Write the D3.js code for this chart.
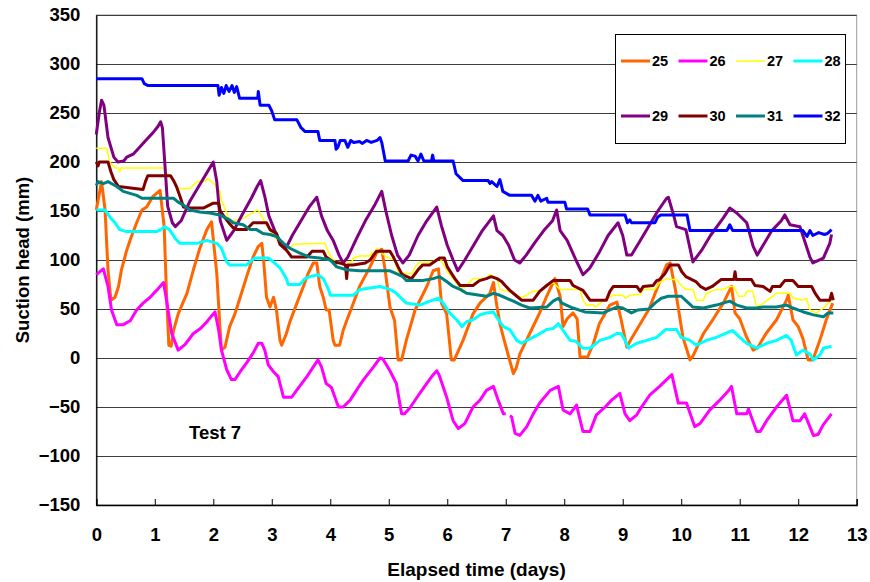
<!DOCTYPE html>
<html lang="en">
<head>
<meta charset="UTF-8">
<title>Suction head - Test 7</title>
<script src="https://d3js.org/d3.v7.min.js"></script>
<style>
    body { margin: 0; background: #fff; }
    text { font-family: Arial, "Liberation Sans", sans-serif; font-weight: bold; fill: #000; }
</style>
</head>
<body>
<svg width="870" height="582"></svg>
<script>
    // ---- data (day, suction head mm) ----
    const xTicks = d3.range(0, 14, 1);
    const yTicks = d3.range(-150, 351, 50);
    const seriesNames = ["25", "26", "27", "28", "29", "30", "31", "32"];
    const seriesColors = ["#FF6600", "#FF00FF", "#FFFF00", "#00FFFF", "#800080", "#800000", "#008080", "#0000FF"];

    const s25 = [[0,151],[0.09,180],[0.15,151],[0.2,90],[0.25,59],[0.32,62],[0.38,73],[0.43,90],[0.52,110],[0.6,124],[0.69,138],[0.78,151],[0.86,154],[0.97,165],[1.09,171],[1.16,134],[1.2,66],[1.24,13],[1.28,12],[1.32,28],[1.4,45],[1.55,66],[1.66,90],[1.77,112],[1.89,131],[1.97,139],[2.06,86],[2.11,35],[2.14,8],[2.2,11],[2.28,32],[2.37,45],[2.46,62],[2.57,83],[2.68,103],[2.77,114],[2.83,117],[2.86,100],[2.91,62],[2.97,52],[3.03,62],[3.08,49],[3.14,18],[3.17,13],[3.25,25],[3.31,37],[3.43,56],[3.54,73],[3.62,86],[3.71,97],[3.77,97],[3.82,73],[3.88,62],[3.93,49],[3.98,49],[4.05,18],[4.08,13],[4.16,13],[4.22,28],[4.28,38],[4.37,52],[4.5,73],[4.68,93],[4.79,107],[4.88,111],[4.94,89],[5.02,52],[5.1,38],[5.16,-2],[5.22,-2],[5.3,18],[5.45,49],[5.65,73],[5.76,89],[5.85,91],[5.9,56],[5.99,45],[6.07,-2],[6.12,-2],[6.27,18],[6.44,45],[6.56,56],[6.73,66],[6.79,77],[6.84,56],[6.9,35],[6.96,21],[7.13,-16],[7.18,-10],[7.24,4],[7.41,25],[7.58,46],[7.7,63],[7.84,81],[7.93,63],[7.98,32],[8.05,40],[8.15,46],[8.22,40],[8.27,1],[8.4,1],[8.5,15],[8.6,35],[8.78,54],[8.9,57],[8.97,40],[9.07,11],[9.15,20],[9.3,35],[9.45,50],[9.58,70],[9.68,85],[9.75,95],[9.81,97],[9.9,70],[10.03,21],[10.15,-2],[10.2,2],[10.38,25],[10.55,40],[10.72,56],[10.86,73],[10.92,46],[11.0,40],[11.12,21],[11.23,8],[11.3,10],[11.45,25],[11.63,39],[11.8,59],[11.83,64],[11.91,39],[12.0,32],[12.08,20],[12.17,-2],[12.25,-2],[12.37,18],[12.48,39],[12.59,56]];

    const s26 = [[0,85],[0.12,91],[0.2,73],[0.26,49],[0.35,34],[0.46,34],[0.58,38],[0.69,49],[0.8,56],[0.92,62],[1.03,69],[1.15,77],[1.2,59],[1.29,25],[1.4,8],[1.52,14],[1.66,25],[1.78,30],[1.89,37],[2.0,45],[2.03,47],[2.09,29],[2.14,8],[2.23,-12],[2.31,-22],[2.37,-22],[2.46,-14],[2.57,-5],[2.68,5],[2.77,15],[2.83,15],[2.88,8],[2.94,-7],[3.03,-14],[3.11,-19],[3.2,-40],[3.34,-40],[3.45,-31],[3.6,-19],[3.71,-9],[3.79,-2],[3.85,-9],[3.93,-26],[4.02,-30],[4.08,-40],[4.14,-50],[4.22,-50],[4.34,-43],[4.48,-30],[4.57,-22],[4.74,-9],[4.85,0],[4.9,-1],[5.02,-13],[5.13,-26],[5.22,-57],[5.27,-57],[5.36,-51],[5.53,-36],[5.65,-26],[5.76,-17],[5.82,-13],[5.86,-17],[5.99,-40],[6.1,-64],[6.19,-72],[6.3,-67],[6.44,-50],[6.56,-43],[6.67,-33],[6.79,-29],[6.87,-43],[6.96,-57],[7.0,-57],[7.03,null],[7.07,-59],[7.1,-60],[7.16,-77],[7.24,-79],[7.36,-70],[7.47,-57],[7.58,-46],[7.76,-33],[7.9,-29],[7.98,-53],[8.1,-57],[8.21,-48],[8.32,-75],[8.44,-75],[8.55,-58],[8.7,-50],[8.81,-43],[8.95,-36],[9.04,-57],[9.12,-64],[9.24,-58],[9.3,-52],[9.46,-38],[9.63,-29],[9.75,-22],[9.84,-17],[9.95,-46],[10.09,-46],[10.23,-70],[10.32,-67],[10.49,-53],[10.66,-43],[10.8,-34],[10.86,-29],[10.95,-57],[11.12,-57],[11.15,-52],[11.18,-57],[11.29,-75],[11.35,-75],[11.46,-64],[11.63,-50],[11.8,-38],[11.91,-64],[12.03,-64],[12.11,-57],[12.26,-79],[12.34,-78],[12.43,-68],[12.57,-57]];

    const s27 = [[0,214],[0.18,214],[0.23,200],[0.32,194],[0.38,194],[0.4,190],[0.42,194],[1.15,194],[1.23,187],[1.32,180],[1.4,173],[1.6,173],[1.72,180],[1.86,180],[1.9,183],[1.97,180],[2.03,177],[2.09,168],[2.11,171],[2.14,161],[2.23,148],[2.28,139],[2.4,141],[2.54,143],[2.6,146],[2.68,148],[2.74,151],[2.78,150],[2.83,144],[2.91,136],[3.0,127],[3.14,117],[3.31,112],[3.37,116],[3.91,117],[3.97,108],[4.02,102],[4.1,98],[4.37,98],[4.39,102],[4.5,104],[4.68,104],[4.71,108],[4.74,104],[4.79,112],[4.96,103],[5.1,100],[5.16,88],[5.3,86],[5.4,86],[5.45,93],[5.53,98],[5.75,98],[5.79,100],[5.87,102],[5.93,96],[6.0,88],[6.1,81],[6.22,71],[6.3,72],[6.44,81],[6.67,81],[6.72,85],[6.85,82],[6.9,70],[7.05,68],[7.19,63],[7.3,62],[7.4,66],[7.47,68],[7.58,68],[7.7,73],[7.81,77],[7.93,70],[8.27,70],[8.32,59],[8.38,54],[8.5,54],[8.53,52],[8.6,55],[8.67,59],[8.84,64],[9.0,64],[9.05,61],[9.12,64],[9.3,65],[9.35,70],[9.55,70],[9.63,77],[9.75,81],[9.84,80],[9.92,80],[10.0,74],[10.08,70],[10.2,70],[10.26,59],[10.38,59],[10.43,66],[10.6,70],[10.72,70],[10.83,73],[10.9,73],[10.98,63],[11.08,63],[11.12,68],[11.22,68],[11.29,52],[11.38,55],[11.52,61],[11.63,66],[11.86,66],[11.91,61],[12.08,59],[12.14,61],[12.2,49],[12.31,46],[12.43,51],[12.51,56],[12.57,59]];

    const s28 = [[0,151],[0.15,151],[0.23,144],[0.32,138],[0.4,131],[0.52,129],[1.03,129],[1.1,131],[1.17,134],[1.25,131],[1.35,122],[1.43,117],[1.72,117],[1.89,120],[2.06,117],[2.14,112],[2.23,98],[2.28,95],[2.57,95],[2.66,100],[2.71,102],[2.94,102],[3.03,98],[3.14,92],[3.25,81],[3.28,75],[3.48,75],[3.57,81],[3.65,83],[3.79,85],[3.88,81],[3.97,70],[4.0,64],[4.39,64],[4.51,70],[4.62,71],[4.85,73],[5.02,70],[5.13,66],[5.3,56],[5.53,54],[5.7,58],[5.85,61],[5.93,56],[6.04,46],[6.16,39],[6.25,32],[6.33,37],[6.44,39],[6.56,44],[6.67,46],[6.79,47],[6.84,42],[6.96,32],[7.07,29],[7.19,18],[7.27,15],[7.36,18],[7.53,23],[7.7,29],[7.81,30],[7.9,35],[7.96,30],[8.1,18],[8.2,17],[8.32,10],[8.44,10],[8.61,18],[8.78,21],[8.9,25],[8.97,25],[9.04,18],[9.1,10],[9.24,15],[9.41,18],[9.58,21],[9.73,29],[9.92,29],[10.0,21],[10.15,18],[10.26,13],[10.43,18],[10.6,21],[10.83,27],[10.88,28],[11.0,21],[11.12,15],[11.29,10],[11.46,15],[11.63,18],[11.8,23],[11.88,18],[11.97,3],[12.08,8],[12.2,4],[12.26,-2],[12.37,3],[12.43,10],[12.57,12]];

    const s29 = [[0,228],[0.05,250],[0.09,263],[0.13,258],[0.2,225],[0.3,205],[0.37,200],[0.47,201],[0.52,205],[0.63,208],[0.74,215],[0.86,223],[0.97,230],[1.05,236],[1.1,241],[1.13,235],[1.17,200],[1.22,155],[1.3,138],[1.35,134],[1.45,140],[1.6,160],[1.75,175],[1.88,188],[2.0,200],[2.06,180],[2.12,140],[2.23,120],[2.35,130],[2.5,147],[2.65,163],[2.75,175],[2.81,181],[2.88,165],[2.95,145],[3.05,130],[3.15,118],[3.25,113],[3.35,125],[3.5,140],[3.65,155],[3.77,164],[3.85,145],[3.95,130],[4.05,120],[4.15,105],[4.22,97],[4.3,103],[4.45,122],[4.6,140],[4.75,155],[4.88,170],[4.95,150],[5.05,125],[5.15,105],[5.24,97],[5.35,105],[5.5,125],[5.65,140],[5.82,154],[5.9,135],[6.0,115],[6.1,100],[6.18,89],[6.3,100],[6.45,115],[6.6,130],[6.79,145],[6.85,130],[6.95,125],[7.05,115],[7.15,100],[7.24,97],[7.35,105],[7.5,118],[7.65,130],[7.8,140],[7.87,151],[7.93,130],[8.05,120],[8.2,100],[8.32,85],[8.44,92],[8.6,108],[8.75,125],[8.92,138],[9.0,125],[9.07,105],[9.15,105],[9.3,120],[9.45,135],[9.6,150],[9.75,163],[9.78,164],[9.86,148],[9.92,134],[10.08,131],[10.2,98],[10.35,110],[10.5,125],[10.72,143],[10.83,153],[10.95,148],[11.12,138],[11.23,114],[11.3,105],[11.4,115],[11.55,130],[11.71,140],[11.77,146],[11.86,136],[12.03,134],[12.2,103],[12.25,97],[12.43,102],[12.54,117],[12.57,126]];

    const s30 = [[0,200],[0.03,196],[0.05,200],[0.2,200],[0.25,190],[0.3,182],[0.38,175],[0.8,172],[0.84,180],[0.88,186],[1.27,186],[1.33,180],[1.37,175],[1.43,165],[1.49,154],[1.6,153],[1.83,153],[2.0,158],[2.09,158],[2.12,150],[2.2,143],[2.28,137],[2.34,133],[2.4,131],[2.57,131],[2.63,135],[2.68,138],[2.91,138],[2.97,131],[3.08,127],[3.14,116],[3.25,110],[3.34,103],[3.6,103],[3.69,109],[3.88,109],[3.93,103],[4.05,98],[4.16,97],[4.26,95],[4.28,81],[4.3,95],[4.39,95],[4.6,97],[4.68,100],[4.74,105],[4.79,109],[5.02,109],[5.08,103],[5.16,93],[5.22,86],[5.27,84],[5.39,81],[5.5,90],[5.58,95],[5.7,95],[5.82,100],[5.87,102],[5.95,102],[6.0,93],[6.13,81],[6.22,74],[6.44,74],[6.55,79],[6.67,81],[6.75,83],[6.85,81],[6.93,78],[6.99,74],[7.07,69],[7.19,63],[7.27,59],[7.47,59],[7.58,68],[7.7,74],[7.81,79],[8.1,79],[8.15,74],[8.32,69],[8.44,59],[8.72,59],[8.78,68],[8.84,73],[9.24,73],[9.3,68],[9.35,73],[9.52,74],[9.58,79],[9.63,80],[9.72,86],[9.78,92],[9.81,95],[9.95,95],[10.01,88],[10.08,83],[10.25,78],[10.33,73],[10.42,70],[10.53,73],[10.68,80],[10.9,80],[10.92,88],[10.94,80],[11.2,80],[11.26,74],[11.4,73],[11.52,68],[11.56,73],[11.69,73],[11.77,79],[11.91,79],[12.0,73],[12.23,73],[12.29,66],[12.37,59],[12.54,59],[12.57,66],[12.6,59]];

    const s31 = [[0,176],[0.03,180],[0.12,178],[0.2,180],[0.35,175],[0.46,170],[0.69,166],[0.78,163],[1.32,163],[1.4,159],[1.49,156],[1.6,151],[1.77,149],[1.94,148],[2.11,146],[2.28,141],[2.34,138],[2.51,136],[2.63,131],[2.74,131],[2.85,127],[2.97,126],[3.08,124],[3.2,117],[3.31,112],[3.48,107],[3.65,103],[3.82,102],[4.0,100],[4.11,93],[4.28,90],[4.5,89],[5.02,89],[5.13,86],[5.24,83],[5.3,79],[5.58,79],[5.76,81],[5.87,83],[5.99,78],[6.1,73],[6.22,70],[6.33,66],[6.67,63],[6.79,66],[6.9,64],[7.01,61],[7.13,58],[7.27,54],[7.41,51],[7.7,52],[7.81,58],[7.9,61],[7.96,56],[8.15,51],[8.35,47],[8.67,46],[8.78,49],[8.9,52],[9.0,51],[9.15,46],[9.26,49],[9.45,50],[9.55,56],[9.66,61],[9.78,63],[10.0,63],[10.09,58],[10.2,52],[10.38,51],[10.6,54],[10.83,58],[10.95,54],[11.12,51],[11.29,51],[11.4,52],[11.63,52],[11.8,54],[11.91,51],[12.09,47],[12.26,44],[12.43,42],[12.51,46],[12.6,46]];

    const s32 = [[0,285],[0.78,285],[0.82,280],[0.88,278],[2.08,278],[2.1,268],[2.14,276],[2.18,270],[2.22,278],[2.27,272],[2.32,278],[2.36,271],[2.4,277],[2.45,265],[2.76,265],[2.77,272],[2.8,258],[2.95,258],[3.0,252],[3.05,243],[3.43,243],[3.5,235],[3.57,231],[3.79,231],[3.82,222],[4.08,222],[4.1,213],[4.13,215],[4.17,222],[4.25,222],[4.3,215],[4.35,222],[4.4,220],[4.5,221],[4.55,219],[4.62,222],[4.7,220],[4.8,222],[4.85,225],[4.88,220],[4.94,201],[5.33,201],[5.38,207],[5.45,206],[5.5,201],[5.55,208],[5.6,201],[5.73,201],[5.75,207],[5.77,201],[6.1,201],[6.15,188],[6.27,181],[6.7,181],[6.73,178],[6.76,180],[6.85,175],[6.9,182],[6.93,175],[6.95,170],[7.07,166],[7.44,166],[7.5,160],[7.55,166],[7.6,160],[7.7,163],[7.72,159],[8.01,159],[8.04,152],[8.4,152],[8.44,146],[9.04,146],[9.08,138],[9.12,141],[9.15,138],[9.55,138],[9.6,144],[9.65,146],[10.1,146],[10.15,130],[10.78,130],[10.83,136],[10.88,130],[12.08,130],[12.15,124],[12.2,130],[12.25,125],[12.35,128],[12.45,126],[12.5,127],[12.57,131]];

    const seriesData = [s25, s26, s27, s28, s29, s30, s31, s32];

    // ---- layout ----
    const svg = d3.select("svg");
    const plot = { left: 96.3, right: 856.7, top: 15, bottom: 505 };

    const x = d3.scaleLinear().domain([0, 13]).range([plot.left, plot.right]);
    const y = d3.scaleLinear().domain([-150, 350]).range([plot.bottom, plot.top]);

    // plot-area frame (light grey) and gridlines
    svg.append("rect")
        .attr("x", plot.left).attr("y", plot.top)
        .attr("width", plot.right - plot.left).attr("height", plot.bottom - plot.top)
        .attr("fill", "none").attr("stroke", "#999").attr("stroke-width", 1);

    svg.append("g")
        .selectAll("line")
        .data(yTicks.filter(d => d > -150))
        .enter().append("line")
        .attr("x1", plot.left).attr("x2", plot.right)
        .attr("y1", d => Math.round(y(d)) + 0.5).attr("y2", d => Math.round(y(d)) + 0.5)
        .attr("stroke", "#3c3c3c").attr("stroke-width", 1);

    // axes
    const xAxis = d3.axisBottom(x).tickValues(xTicks).tickSize(-6).tickPadding(16).tickFormat(d3.format("d"));
    const gx = svg.append("g").attr("transform", `translate(0,${plot.bottom})`).call(xAxis);
    gx.select(".domain").attr("stroke", "#000").attr("stroke-width", 1.3);
    gx.selectAll(".tick line").attr("stroke", "#000");
    gx.selectAll(".tick text").attr("font-size", 18.5).attr("font-family", "Arial, 'Liberation Sans', sans-serif")
        .attr("font-weight", "bold").attr("dy", "1.1em");

    const yAxis = d3.axisLeft(y).tickValues(yTicks).tickSize(0).tickPadding(16).tickFormat(d3.format("d"));
    const gy = svg.append("g").attr("transform", `translate(${plot.left},0)`).call(yAxis);
    gy.select(".domain").attr("stroke", "#000").attr("stroke-width", 1.3);
    gy.selectAll(".tick text").attr("font-size", 18.5).attr("font-family", "Arial, 'Liberation Sans', sans-serif")
        .attr("font-weight", "bold");

    // series lines
    const line = d3.line()
        .defined(d => d[1] !== null)
        .x(d => x(d[0]))
        .y(d => y(d[1]));

    svg.append("g")
        .selectAll("path")
        .data(seriesData)
        .enter().append("path")
        .attr("d", line)
        .attr("fill", "none")
        .attr("stroke", (d, i) => seriesColors[i])
        .attr("stroke-width", (d, i) => i === 2 ? 1.5 : 3)
        .attr("stroke-linejoin", "round");

    // axis titles and note
    svg.append("text")
        .attr("transform", `translate(29,${(plot.top + plot.bottom) / 2}) rotate(-90)`)
        .attr("text-anchor", "middle")
        .attr("font-size", 18.5)
        .text("Suction head (mm)");

    svg.append("text")
        .attr("x", (plot.left + plot.right) / 2).attr("y", 576)
        .attr("text-anchor", "middle")
        .attr("font-size", 19)
        .text("Elapsed time (days)");

    svg.append("text")
        .attr("x", 189).attr("y", 439)
        .attr("font-size", 18.5)
        .text("Test 7");

    // legend
    const legend = svg.append("g").attr("transform", "translate(615,34)");
    legend.append("rect")
        .attr("x", 0.5).attr("y", 0.5).attr("width", 230).attr("height", 109)
        .attr("fill", "#fff").attr("stroke", "#000").attr("stroke-width", 1);

    const items = legend.selectAll("g.item")
        .data(seriesNames)
        .enter().append("g")
        .attr("class", "item")
        .attr("transform", (d, i) => `translate(${6 + (i % 4) * 57.5},${i < 4 ? 27 : 82})`);

    items.append("line")
        .attr("x1", 0).attr("x2", 29)
        .attr("stroke", (d, i) => seriesColors[i])
        .attr("stroke-width", (d, i) => i === 2 ? 1.5 : 3);

    items.append("text")
        .attr("x", 31).attr("dy", "0.36em")
        .attr("font-size", 14.5)
        .text(d => d);
</script>
</body>
</html>
